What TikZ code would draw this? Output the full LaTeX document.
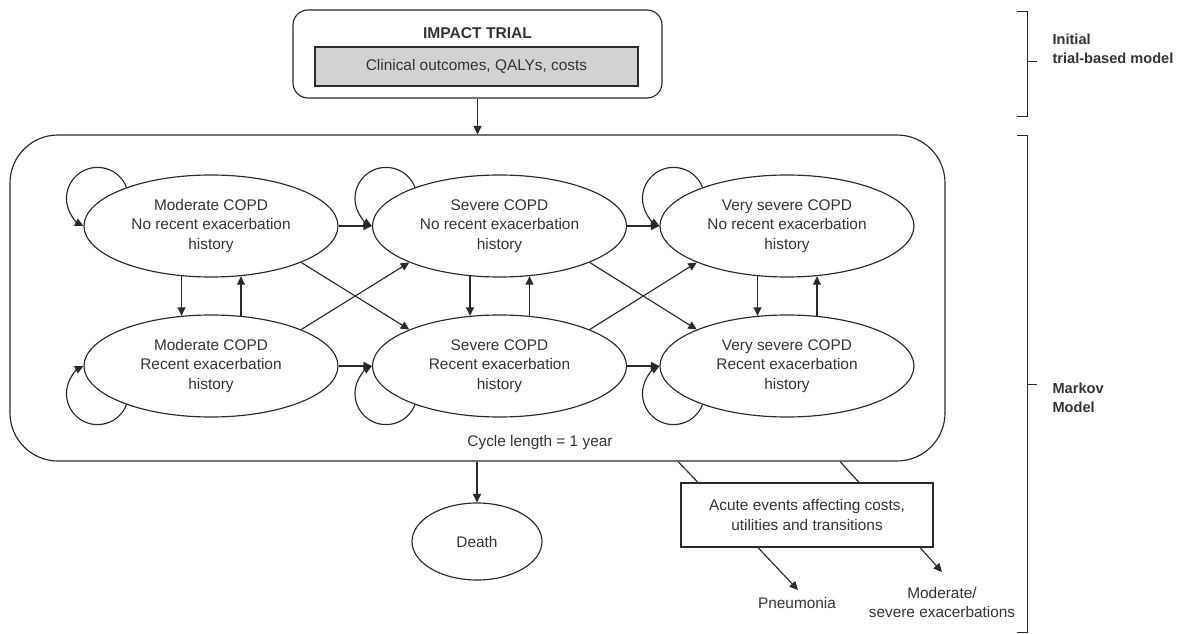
\documentclass[tikz,border=0pt]{standalone}
\usepackage{fontspec}
\setmainfont{Liberation Sans}
\usetikzlibrary{shapes.geometric,arrows.meta,calc}
\definecolor{ln}{HTML}{2A2A2A}
\definecolor{tx}{HTML}{333333}
\definecolor{gbox}{HTML}{D2D2D2}
\begin{document}
\begin{tikzpicture}[x=1pt,y=1pt,
  every node/.style={text=tx, font=\fontsize{15.4}{19.5}\selectfont},
  line/.style={draw=ln, line width=1.15pt},
  arr/.style={line, -{Triangle[length=8.5pt,width=8pt]}},
  st/.style={ellipse, draw=ln, line width=1.15pt, minimum width=254pt, minimum height=102pt, inner sep=0pt, align=center},
  lbl/.style={anchor=west, align=left, font=\fontsize{14.6}{19}\selectfont\bfseries},
]
\useasboundingbox (0,0) rectangle (1191,633);

% top box
\node[draw=ln, line width=1.15pt, rounded corners=15pt, minimum width=369pt, minimum height=88pt] (T) at (477.5,579) {};
\node[font=\fontsize{15.6}{19.5}\selectfont\bfseries] (TT) at (477.5,600) {IMPACT TRIAL};
\node[draw=ln, line width=1.15pt, fill=gbox, minimum width=323pt, minimum height=39pt, inner sep=0pt] (G) at (476.5,566.5) {Clinical outcomes, QALYs, costs};

% Markov box
\node[draw=ln, line width=1.15pt, rounded corners=48pt, minimum width=935pt, minimum height=326pt] (M) at (477.5,335) {};
\draw[arr] (T.south) -- (T.south |- M.north);

% states
\node[st] (a1) at (211,407) {Moderate COPD\\No recent exacerbation\\history};
\node[st] (b1) at (499.5,407) {Severe COPD\\No recent exacerbation\\history};
\node[st] (c1) at (787,407) {Very severe COPD\\No recent exacerbation\\history};
\node[st] (a2) at (211,267) {Moderate COPD\\Recent exacerbation\\history};
\node[st] (b2) at (499.5,267) {Severe COPD\\Recent exacerbation\\history};
\node[st] (c2) at (787,267) {Very severe COPD\\Recent exacerbation\\history};

\node (cyc) at (540,190) {Cycle length = 1 year};

% horizontal
\draw[arr] (a1.east) -- (b1.west);
\draw[arr] (b1.east) -- (c1.west);
\draw[arr] (a2.east) -- (b2.west);
\draw[arr] (b2.east) -- (c2.west);

% vertical
\foreach \u/\v in {a1/a2,b1/b2,c1/c2}{
  \draw[arr] ([xshift=-29.5pt,yshift=1.4pt]\u.south) -- ([xshift=-29.5pt,yshift=-1.4pt]\v.north);
  \draw[arr] ([xshift=30pt,yshift=-1.4pt]\v.north) -- ([xshift=30pt,yshift=1.4pt]\u.south);
}

% diagonals
\draw[arr] (a1.south east) -- (b2.north west);
\draw[arr] (a2.north east) -- (b1.south west);
\draw[arr] (b1.south east) -- (c2.north west);
\draw[arr] (b2.north east) -- (c1.south west);

% self loops
\foreach \n in {a1,b1,c1}{
  \draw[arr] ([shift={(43.2,38.2)}]\n.west) arc[start angle=20,end angle=243,radius=31];
}
\foreach \n in {a2,b2,c2}{
  \draw[arr] ([shift={(43.2,-38.2)}]\n.west) arc[start angle=-20,end angle=-243,radius=31];
}

% death
\node[ellipse, draw=ln, line width=1.15pt, minimum width=130pt, minimum height=77pt, inner sep=0pt] (D) at (477,91.5) {Death};
\draw[arr] (D.north |- M.south) -- (D.north);

% acute events
\node[draw=ln, line width=1.15pt, minimum width=252pt, minimum height=64pt, align=center, inner sep=0pt] (A) at (807,118) {Acute events affecting costs,\\utilities and transitions};
\draw[line] (678,0 |- M.south) -- (698,0 |- A.north);
\draw[line] (840,0 |- M.south) -- (859,0 |- A.north);

\node (P) at (797,30) {Pneumonia};
\node[align=center] (E) at (942,30.5) {Moderate/\\severe exacerbations};
\coordinate (pa) at (758,0 |- A.south);
\coordinate (ea) at (920,0 |- A.south);
\draw[arr] (pa) -- (798,43);
\draw[arr] (ea) -- (942,61);

% braces
\draw[line, line width=1pt] (1017,621) -- (1027,621) -- (1027,516) -- (1017,516);
\draw[line, line width=1pt] (1027,571) -- (1037,571);
\draw[line, line width=1pt] (1017,497) -- (1027,497) -- (1027,1) -- (1017,1);
\draw[line, line width=1pt] (1027,249) -- (1037,249);
\node[lbl] (L1) at (1049,584.5) {Initial\\trial-based model};
\node[lbl] (L2) at (1049,235.5) {Markov\\Model};
\end{tikzpicture}
\end{document}
